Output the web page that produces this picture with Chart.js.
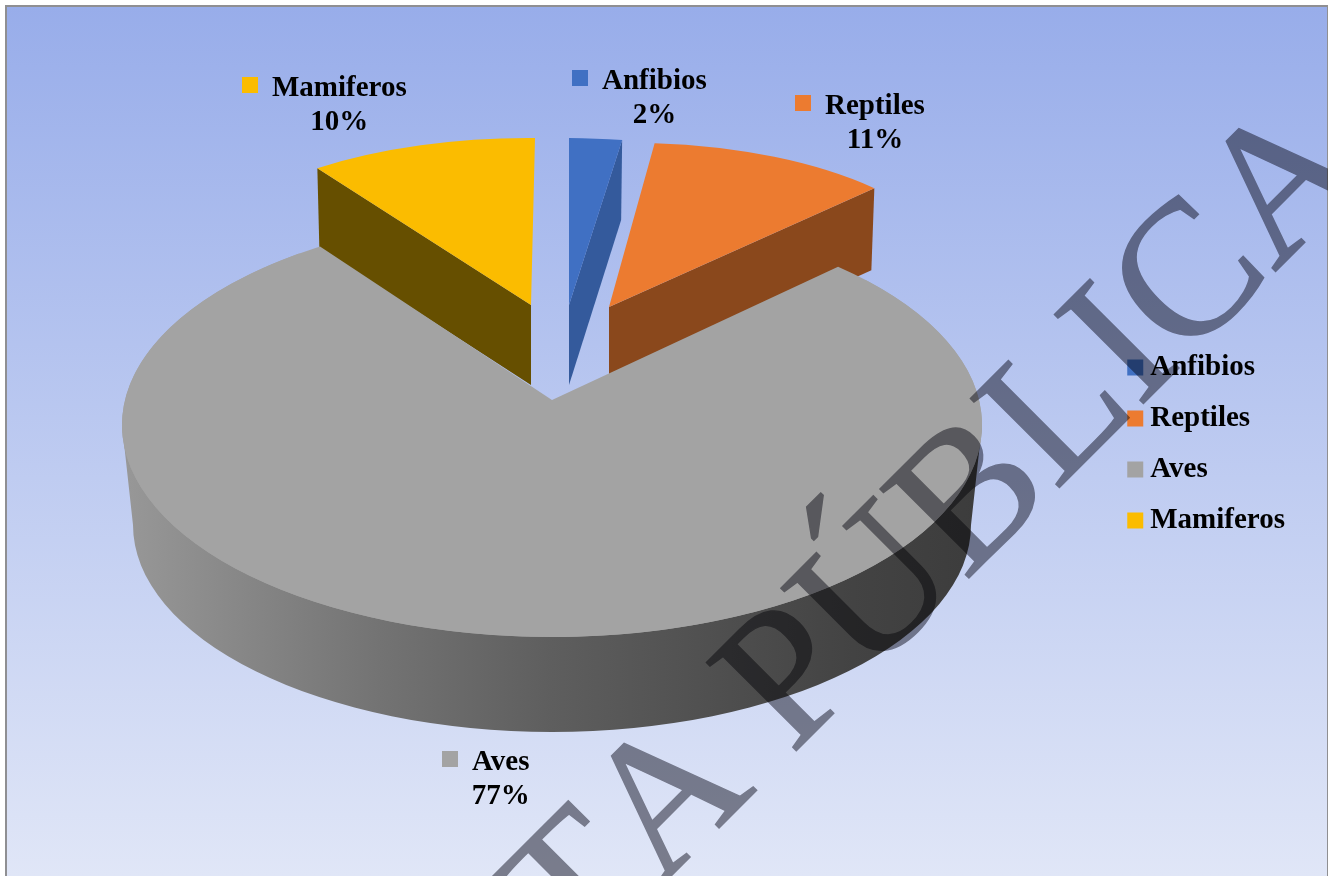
<!DOCTYPE html>
<html>
<head>
<meta charset="utf-8">
<style>html,body{margin:0;padding:0;background:#fff}canvas{display:block}</style>
<script src="https://cdn.jsdelivr.net/npm/chart.js@4"></script>
</head>
<body>
<canvas id="c" width="1328" height="876"></canvas>
<script>
// ---- data ----
const categories = ['Anfibios', 'Reptiles', 'Aves', 'Mamiferos'];
const percentValues = [2, 11, 77, 10];
const watermarkText = 'TA PÚBLICA';

// ---- style ----
const topColors = ['#4070c3', '#ec7b30', '#a3a3a3', '#fbbc00'];
const wallColors = ['#345a9c', '#8a481c', '#6a6a6a', '#664f00'];
const FONT = 'bold 29px "Liberation Serif", serif';

// Per-slice projection of the unit circle onto the slanted page (3D look):
// origin (e,f), x-axis (a,b), y-axis (c,d); wall = extrusion vector of the exposed cut face.
const projection = [
  {a:424, b:5,  c:0,  d:167, e:569, f:305, wall:[-1,80], face:'end'},
  {a:364, b:-9, c:0,  d:164, e:609, f:307, wall:[-3,82], face:'end'},
  {a:430, b:0,  c:0,  d:212, e:552, f:425},
  {a:369, b:3,  c:-4, d:167, e:531, f:305, wall:[2,80],  face:'start'}
];
const drawOrder = [3, 0, 1, 2];
const RIM = {lowerCy:525, lowerRx:419, lowerRy:207, notchLift:25, trimStart:5.1, trimEnd:3.35};
// data-label placement: key-square left edge, text centre line
const labelPlace = [
  {x:572, y:79},
  {x:795, y:104},
  {x:442, y:760},
  {x:242, y:86}
];

const pie3d = {
  id:'pie3d',
  beforeDraw(chart){
    const ctx = chart.ctx;
    ctx.save();
    ctx.fillStyle = '#ffffff';
    ctx.fillRect(0,0,1328,876);
    ctx.fillStyle = '#8f8f92';
    ctx.fillRect(5,5,1323,871);
    const g = ctx.createLinearGradient(0,7,0,876);
    g.addColorStop(0,'#98adea');
    g.addColorStop(1,'#e0e6f7');
    ctx.fillStyle = g;
    ctx.fillRect(7,7,1320,869);
    ctx.restore();
  },
  beforeDatasetsDraw(chart){
    const ctx = chart.ctx;
    const meta = chart.getDatasetMeta(0);
    drawOrder.forEach(i=>{
      const arc = meta.data[i], p = projection[i], R = arc.outerRadius;
      if (p.wall){
        const ang = p.face==='start' ? arc.startAngle : arc.endAngle;
        const px = p.e + p.a*Math.cos(ang) + p.c*Math.sin(ang);
        const py = p.f + p.b*Math.cos(ang) + p.d*Math.sin(ang);
        ctx.save();
        ctx.fillStyle = wallColors[i];
        ctx.beginPath();
        ctx.moveTo(p.e,p.f);
        ctx.lineTo(px,py);
        ctx.lineTo(px+p.wall[0],py+p.wall[1]);
        ctx.lineTo(p.e,p.f+p.wall[1]);
        ctx.closePath();
        ctx.fill();
        ctx.restore();
      } else {
        // outer rim of the large slice
        const g = ctx.createLinearGradient(p.e-p.a,0,p.e+p.a,0);
        g.addColorStop(0,'#989898');
        g.addColorStop(0.3,'#737373');
        g.addColorStop(0.5,'#5e5e5e');
        g.addColorStop(0.85,'#434343');
        g.addColorStop(1,'#3c3c3c');
        ctx.save();
        ctx.fillStyle = g;
        ctx.beginPath();
        ctx.moveTo(p.e-p.a,p.f);
        ctx.ellipse(p.e,RIM.lowerCy,RIM.lowerRx,RIM.lowerRy,0,Math.PI,0,true);
        ctx.lineTo(p.e+p.a,p.f);
        ctx.closePath();
        ctx.fill();
        ctx.restore();
      }
      ctx.save();
      ctx.transform(p.a/R,p.b/R,p.c/R,p.d/R,p.e,p.f);
      ctx.translate(-arc.x,-arc.y);
      arc.draw(ctx);
      ctx.restore();
      if (!p.wall){
        // the notch apex sits behind the ellipse centre in perspective
        const rad = Math.PI/180;
        ctx.save();
        ctx.fillStyle = topColors[i];
        ctx.beginPath();
        ctx.moveTo(p.e,p.f-RIM.notchLift);
        ctx.ellipse(p.e,p.f,p.a,p.d,0,arc.startAngle-RIM.trimStart*rad,arc.endAngle+RIM.trimEnd*rad);
        ctx.closePath();
        ctx.fill();
        ctx.restore();
      }
    });
    return false;
  },
  afterDraw(chart){
    const ctx = chart.ctx;
    ctx.save();
    ctx.font = FONT;
    ctx.textBaseline = 'middle';
    categories.forEach((name,i)=>{
      const s = labelPlace[i];
      ctx.fillStyle = topColors[i];
      ctx.fillRect(s.x,s.y-9,16,16);
      ctx.fillStyle = '#000';
      ctx.textAlign = 'left';
      const tx = s.x+30, w = ctx.measureText(name).width;
      ctx.fillText(name,tx,s.y+3);
      ctx.textAlign = 'center';
      ctx.fillText(percentValues[i]+'%',tx+w/2,s.y+37);
    });
    ctx.restore();

    // watermark: painted as one flat layer, then multiplied over the whole chart
    const layer = document.createElement('canvas');
    layer.width = chart.width; layer.height = chart.height;
    const w = layer.getContext('2d');
    const S = 0.48;
    w.fillStyle = w.strokeStyle = '#8a8a91';
    w.font = '400px "Liberation Serif", serif';
    w.fontKerning = 'none';
    w.textAlign = 'left';
    w.textBaseline = 'alphabetic';
    w.lineJoin = 'miter';
    w.translate(576.6,970.4);
    w.rotate(-Math.PI/4);
    w.scale(S,S);
    w.lineWidth = 1.4/S;
    w.fillText(watermarkText,0,0);
    w.strokeText(watermarkText,0,0);
    ctx.save();
    ctx.globalCompositeOperation = 'multiply';
    ctx.drawImage(layer,0,0);
    ctx.restore();
  }
};

new Chart(document.getElementById('c'),{
  type:'pie',
  data:{
    labels:categories,
    datasets:[{data:percentValues, backgroundColor:topColors, borderWidth:0}]
  },
  options:{
    responsive:false,
    animation:false,
    layout:{padding:{right:33,top:12}},
    plugins:{
      tooltip:{enabled:false},
      legend:{
        position:'right',
        align:'center',
        labels:{
          usePointStyle:true,
          pointStyle:'rect',
          boxWidth:1,
          boxHeight:16,
          padding:22,
          color:'#000',
          font:{family:'"Liberation Serif", serif',size:29,weight:'bold'}
        }
      }
    }
  },
  plugins:[pie3d]
});
</script>
</body>
</html>
